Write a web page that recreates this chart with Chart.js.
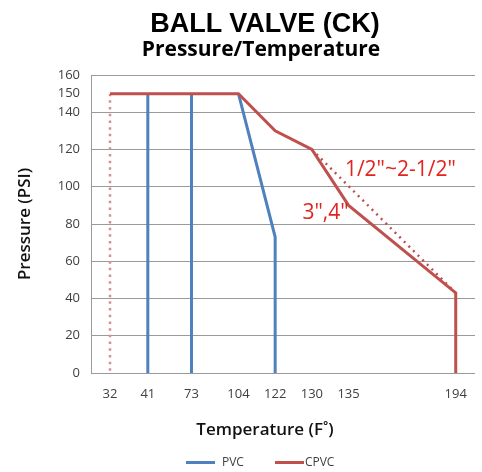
<!DOCTYPE html>
<html>
<head>
<meta charset="utf-8">
<script src="https://cdn.jsdelivr.net/npm/chart.js@4.4.1/dist/chart.umd.min.js"></script>
<style>
  body { margin: 0; background: #fff; }
  .wrap { position: relative; width: 482px; height: 472px; overflow: hidden; }
  .wrap canvas { position: absolute; left: 0; top: 0; }
  .title {
    position: absolute; left: 0; width: 530px; text-align: center;
    white-space: nowrap; color: #000;
  }
  .main-title { top: 10px; font: bold 27px/27px "Liberation Sans", Arial, sans-serif; }
  .sub-title  { top: 38px; left: -4px; font: bold 21px/21px "Open Sans", sans-serif; }
  .x-title    { top: 420px; font: 600 17px/17px "Open Sans", sans-serif; color: #111; }
  .legend {
    position: absolute; top: 455px; left: 186px; height: 14px;
    display: flex; align-items: center;
    font: 12px/14px "Open Sans", sans-serif; color: #404040;
  }
  .legend .swatch { display: inline-block; width: 29px; height: 3px; margin-right: 7px; }
  .legend .item { display: flex; align-items: center; }
  .legend .item + .item { margin-left: 31px; }
  .legend .item + .item .swatch { margin-right: 1px; }
</style>
</head>
<body>
<div class="wrap">
  <canvas id="chart" width="482" height="472"></canvas>
  <div class="title main-title">BALL VALVE (CK)</div>
  <div class="title sub-title">Pressure/Temperature</div>
  <div class="title x-title">Temperature (F˚)</div>
  <div class="legend">
    <span class="item"><span class="swatch" style="background:#4F81BD"></span>PVC</span>
    <span class="item"><span class="swatch" style="background:#C0504D"></span>CPVC</span>
  </div>
</div>
<script>
// temperature ticks (F) and where the original chart put them along the axis (uneven spacing)
const tempTicks  = [32, 41, 73, 104, 122, 130, 135, 194];
const axisSlots  = [0, 1.03, 2.22, 3.5, 4.5, 5.5, 6.5, 9.42];
const pressureTicks = [0, 20, 40, 60, 80, 100, 120, 140, 150, 160];

// PVC
const pvcLimitTemps    = [41, 73];
const pvcLimitPressure = 150;
const pvcTemps         = [104, 122, 122];
const pvcPressure      = [150, 73, 0];

// CPVC 3",4"
const cpvcTemps    = [32, 104, 122, 130, 135, 194, 194];
const cpvcPressure = [150, 150, 130, 120, 90, 43, 0];

// CPVC 1/2"~2-1/2" (dotted)
const cpvcSmallTemps    = [130, 194];
const cpvcSmallPressure = [120, 43];

// min temperature line (dotted)
const minTemp     = 32;
const minPressure = [150, 0];

const notes = [
  { text: '1/2"~2-1/2"', temp: 134.5, pressure: 109, align: 'left' },
  { text: '3",4"',       temp: 135,   pressure: 86,  align: 'right' },
];

const BLUE = '#4F81BD';
const RED  = '#C0504D';
const GRID = '#9a9a9a';

function slotOf(t) {
  for (let i = 0; i < tempTicks.length - 1; i++) {
    const a = tempTicks[i], b = tempTicks[i + 1];
    if (t >= a && t <= b) return axisSlots[i] + (t - a) / (b - a) * (axisSlots[i + 1] - axisSlots[i]);
  }
  return t < tempTicks[0] ? axisSlots[0] : axisSlots[axisSlots.length - 1];
}

const pts = (temps, pressures) => temps.map((t, i) => ({ x: slotOf(t), y: pressures[i] }));

function lineSet(data, color, extra) {
  return Object.assign({
    data,
    borderColor: color,
    backgroundColor: color,
    borderWidth: 3,
    pointRadius: 0,
    pointHoverRadius: 0,
    fill: false,
    tension: 0,
  }, extra || {});
}

const datasets = [
  lineSet(pts(cpvcTemps, cpvcPressure), RED),
  lineSet(pts(cpvcSmallTemps, cpvcSmallPressure), RED, { borderWidth: 2.5, borderDash: [2, 4.5] }),
  lineSet(pts([minTemp, minTemp], minPressure), '#d58f94', { borderWidth: 2.5, borderDash: [2.5, 4.2] }),
  lineSet(pts(pvcTemps, pvcPressure), BLUE),
  ...pvcLimitTemps.map(t => lineSet(pts([t, t], [0, pvcLimitPressure]), BLUE)),
];

const notesPlugin = {
  id: 'notes',
  afterDatasetsDraw(chart) {
    const { ctx, scales } = chart;
    ctx.save();
    ctx.fillStyle = '#e3231f';
    ctx.font = '21px "Open Sans", sans-serif';
    ctx.textBaseline = 'middle';
    notes.forEach(n => {
      ctx.textAlign = n.align;
      ctx.fillText(n.text, scales.x.getPixelForValue(slotOf(n.temp)), scales.y.getPixelForValue(n.pressure));
    });
    ctx.restore();
  },
};

new Chart(document.getElementById('chart'), {
  type: 'line',
  data: { datasets },
  plugins: [notesPlugin],
  options: {
    responsive: false,
    animation: false,
    parsing: false,
    layout: { padding: { left: 0, right: 7, top: 75, bottom: 0 } },
    plugins: {
      legend: { display: false },
      tooltip: { enabled: false },
    },
    scales: {
      x: {
        type: 'linear',
        min: -0.518,
        max: 9.945,
        afterBuildTicks: scale => { scale.ticks = tempTicks.map(t => ({ value: slotOf(t) })); },
        afterFit: scale => { scale.height = 99; },
        ticks: {
          autoSkip: false,
          maxRotation: 0,
          padding: 13,
          color: '#404040',
          font: { family: 'Open Sans', size: 13 },
          callback: (v, i) => String(tempTicks[i]),
        },
        grid: { display: false, drawTicks: false },
        border: { display: false },
      },
      y: {
        min: 0,
        max: 160,
        afterBuildTicks: scale => { scale.ticks = pressureTicks.map(v => ({ value: v })); },
        afterFit: scale => { scale.width = 91; },
        ticks: {
          autoSkip: false,
          padding: 11,
          color: '#404040',
          font: { family: 'Open Sans', size: 13 },
        },
        grid: {
          drawTicks: false,
          lineWidth: 1,
          color: ctx => (ctx.tick && ctx.tick.value === 150 ? 'rgba(0,0,0,0)' : GRID),
        },
        border: { display: true, color: GRID, width: 1 },
        title: {
          display: true,
          text: 'Pressure (PSI)',
          color: '#111',
          font: { family: 'Open Sans', size: 17, weight: '600' },
          padding: { top: 15, bottom: 0 },
        },
      },
    },
  },
});
</script>
</body>
</html>
